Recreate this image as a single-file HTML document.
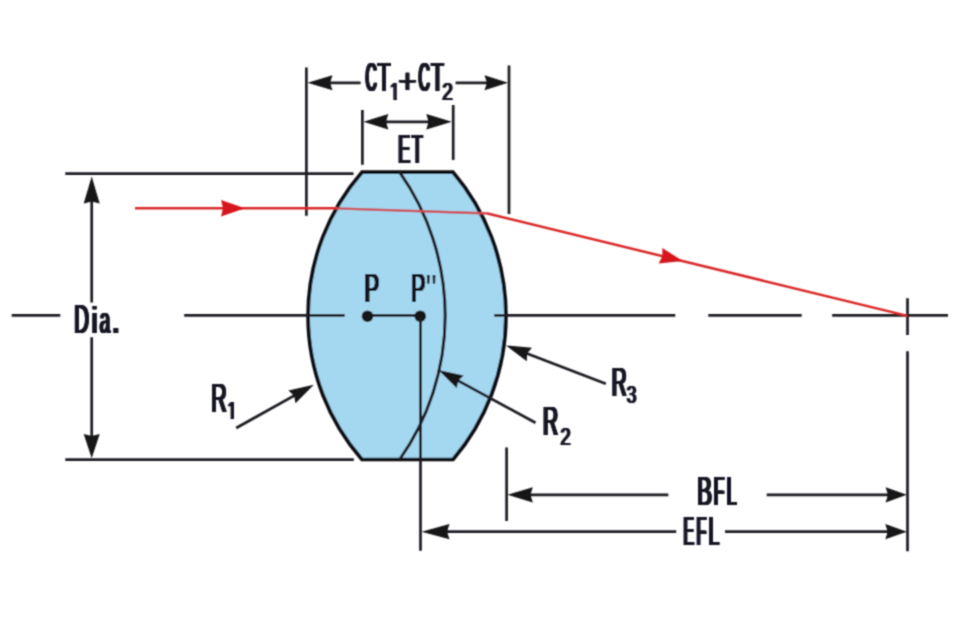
<!DOCTYPE html>
<html lang="en">
<head>
<meta charset="utf-8">
<title>Doublet lens dimensions diagram</title>
<style>
  html, body { margin: 0; padding: 0; background: #ffffff; }
  body { width: 960px; height: 617px; overflow: hidden; }
  svg { display: block; }
  .ln { stroke: #1b1b22; stroke-width: 2.7; fill: none; stroke-linecap: butt; }
  .ah { fill: #121218; stroke: none; }
  .ray { stroke: #da2828; stroke-width: 2.5; fill: none; stroke-linejoin: round; }
  .rah { fill: #d6161b; stroke: none; }
  text { font-family: "Liberation Sans", sans-serif; fill: #131320; }
  .t { font-size: 41px; }
  .q { font-size: 41px; }
  .p { font-size: 35px; }
  .s { font-size: 23px; }
  .b { font-weight: bold; }
</style>
</head>
<body>
<svg width="960" height="617" viewBox="0 0 960 617">
  <defs>
    <filter id="fat" x="-40%" y="-10%" width="180%" height="120%" filterUnits="objectBoundingBox" primitiveUnits="userSpaceOnUse">
      <feOffset in="SourceGraphic" dx="1.3" dy="0" result="a"/>
      <feOffset in="SourceGraphic" dx="-1.3" dy="0" result="b"/>
      <feOffset in="SourceGraphic" dx="0.65" dy="0" result="c"/>
      <feOffset in="SourceGraphic" dx="-0.65" dy="0" result="d"/>
      <feMerge><feMergeNode in="a"/><feMergeNode in="b"/><feMergeNode in="c"/><feMergeNode in="d"/><feMergeNode in="SourceGraphic"/></feMerge>
    </filter>
    <filter id="fat2" x="-40%" y="-10%" width="180%" height="120%" filterUnits="objectBoundingBox" primitiveUnits="userSpaceOnUse">
      <feOffset in="SourceGraphic" dx="0.6" dy="0" result="a"/>
      <feOffset in="SourceGraphic" dx="-0.6" dy="0" result="b"/>
      <feMerge><feMergeNode in="a"/><feMergeNode in="b"/><feMergeNode in="SourceGraphic"/></feMerge>
    </filter>
    <clipPath id="c1" clipPathUnits="userSpaceOnUse"><path d="M388.90,77.00 H395.92 V101.00 H394.28 V97.68 H388.90 Z"/></clipPath>
    <clipPath id="c2" clipPathUnits="userSpaceOnUse"><path d="M226.20,395.90 H233.02 V419.90 H231.46 V416.58 H226.20 Z"/></clipPath>
    <filter id="soft" x="0" y="0" width="960" height="617" filterUnits="userSpaceOnUse">
      <feConvolveMatrix order="3" kernelMatrix="1 3 1 3 8 3 1 3 1" edgeMode="duplicate" preserveAlpha="false"/>
    </filter>
  </defs>
  <rect x="0" y="0" width="960" height="617" fill="#ffffff"/>
  <g filter="url(#soft)">

  <!-- lens body -->
  <path id="lens" d="M362,172.2 L453,172.2 A221.4,221.4 0 0 1 453,459.5 L362,459.5 A218.3,218.3 0 0 1 362,172.2 Z"
        fill="#a4d7f0" stroke="#0e0e12" stroke-width="3.7" stroke-linejoin="miter"/>
  <!-- cemented interface R2 -->
  <path d="M399.6,172.2 A249.1,249.1 0 0 1 399.6,459.5" class="ln" style="stroke-width:3.0"/>

  <!-- optical axis -->
  <path class="ln" d="M11.7,315.4 H60.3 M184.2,315.4 H344.7 M367.5,315.4 H420 M494.2,315.4 H675.3 M708.3,315.4 H801.7 M832.2,315.4 H948"/>
  <circle cx="367.5" cy="316.2" r="5.8" class="ah"/>
  <circle cx="420.2" cy="316.2" r="5.8" class="ah"/>

  <!-- Dia. dimension -->
  <path class="ln" d="M65.3,173.6 H353.5 M65.3,459.7 H353.8 M91.7,190 V302.4 M91.7,337.2 V445"/>
  <polygon class="ah" points="91.7,176.5 99.7,203.5 91.7,201.5 83.7,203.5"/>
  <polygon class="ah" points="91.7,458.3 99.7,434 91.7,436 83.7,434"/>

  <!-- CT1+CT2 dimension -->
  <path class="ln" d="M306.4,67.5 V215.8 M509.0,65.6 V214 M325,82.8 H360.6 M455.6,82.8 H490"/>
  <polygon class="ah" points="307.5,82.8 332.5,75.3 330,82.8 332.5,90.3"/>
  <polygon class="ah" points="508,82.8 484.5,75.3 487,82.8 484.5,90.3"/>

  <!-- ET dimension -->
  <path class="ln" d="M362.4,110 V164.7 M453.2,105 V160 M380,121.8 H435"/>
  <polygon class="ah" points="363.5,121.8 388.3,114 386,121.8 388.3,129.6"/>
  <polygon class="ah" points="451.8,121.8 426.3,114 428.6,121.8 426.3,129.6"/>

  <!-- P'' reference line, BFL, EFL -->
  <path class="ln" d="M420.5,316 V550.8 M506.6,447.4 V521.1 M907.5,298.3 V335 M907.5,351.3 V551.2"/>
  <path class="ln" d="M525,494.8 H668.3 M766.7,494.8 H890 M440,531.7 H676.2 M725,531.7 H890"/>
  <polygon class="ah" points="507.5,494.8 532.8,487.2 530.4,494.8 532.8,502.4"/>
  <polygon class="ah" points="906.8,494.8 885.6,487.2 888,494.8 885.6,502.4"/>
  <polygon class="ah" points="421.5,531.7 449.5,524.1 447,531.7 449.5,539.3"/>
  <polygon class="ah" points="906.8,531.7 885.3,524.1 887.7,531.7 885.3,539.3"/>

  <!-- radius leaders -->
  <path class="ln" d="M236.2,428 L300,392.4 M535.5,422.8 L455,379 M605.8,383.7 L525,352.8"/>
  <polygon class="ah" transform="translate(313.8,384.7) rotate(-29.15)" points="0,0 -25,-7.2 -22.5,0 -25,7.2"/>
  <polygon class="ah" transform="translate(438.3,370) rotate(208.5)" points="0,0 -25,-7.2 -22.5,0 -25,7.2"/>
  <polygon class="ah" transform="translate(506.0,345.5) rotate(200.9)" points="0,0 -25,-7.2 -22.5,0 -25,7.2"/>

  <!-- ray -->
  <path class="ray" d="M135,208.3 L337,208.3 M487.5,213.5 L907.5,315.9"/>
  <path class="ray" d="M336,208.3 L488.5,213.5" style="stroke:#cf4a50;stroke-width:2.3"/>
  <polygon class="rah" points="245,208.3 221,200 223,208.3 221,216.6"/>
  <polygon class="rah" transform="translate(682.8,261.1) rotate(13.7)" points="0,0 -23,-8 -21,0 -23,8"/>

  <!-- labels -->
  <g>
    <text class="t" filter="url(#fat)" y="90.6"><tspan x="365.41" textLength="11.29" lengthAdjust="spacingAndGlyphs">C</tspan><tspan x="377.84" textLength="12.53" lengthAdjust="spacingAndGlyphs">T</tspan></text>
    <g filter="url(#fat2)"><text class="s" y="100.0" clip-path="url(#c1)"><tspan x="389.76" textLength="10.04" lengthAdjust="spacingAndGlyphs">1</tspan></text></g>
    <text class="p" filter="url(#fat2)" y="92.8"><tspan x="398.16" textLength="18.39" lengthAdjust="spacingAndGlyphs">+</tspan></text>
    <text class="t" filter="url(#fat)" y="90.6"><tspan x="418.60" textLength="11.40" lengthAdjust="spacingAndGlyphs">C</tspan><tspan x="431.14" textLength="12.42" lengthAdjust="spacingAndGlyphs">T</tspan></text>
    <text class="s" filter="url(#fat2)" y="100.0"><tspan x="442.24" textLength="10.62" lengthAdjust="spacingAndGlyphs">2</tspan></text>
    <text class="t" filter="url(#fat)" y="162.8"><tspan x="398.25" textLength="11.81" lengthAdjust="spacingAndGlyphs">E</tspan><tspan x="412.11" textLength="10.59" lengthAdjust="spacingAndGlyphs">T</tspan></text>
    <text class="t" filter="url(#fat)" y="332.8"><tspan x="74.14" textLength="14.63" lengthAdjust="spacingAndGlyphs">D</tspan><tspan x="91.63" font-size="36.3" textLength="5.56" lengthAdjust="spacingAndGlyphs">i</tspan><tspan x="99.81" font-size="36.3" textLength="10.29" lengthAdjust="spacingAndGlyphs">a</tspan><tspan x="111.81" font-size="46" textLength="8.17" lengthAdjust="spacingAndGlyphs">.</tspan></text>
    <text class="t" filter="url(#fat)" y="302.3"><tspan x="364.50" textLength="14.66" lengthAdjust="spacingAndGlyphs">P</tspan></text>
    <text class="t" filter="url(#fat)" y="302.3"><tspan x="411.27" textLength="14.04" lengthAdjust="spacingAndGlyphs">P</tspan></text>
    <text class="q" y="303.4"><tspan x="425.45" textLength="11.31" lengthAdjust="spacingAndGlyphs">&quot;</tspan></text>
    <text class="t" filter="url(#fat)" y="412.0"><tspan x="211.35" textLength="15.45" lengthAdjust="spacingAndGlyphs">R</tspan></text>
    <g filter="url(#fat2)"><text class="s" y="418.9" clip-path="url(#c2)"><tspan x="227.14" textLength="9.59" lengthAdjust="spacingAndGlyphs">1</tspan></text></g>
    <text class="t" filter="url(#fat)" y="435.2"><tspan x="542.99" textLength="15.08" lengthAdjust="spacingAndGlyphs">R</tspan></text>
    <text class="s" filter="url(#fat2)" y="444.5"><tspan x="560.48" textLength="10.13" lengthAdjust="spacingAndGlyphs">2</tspan></text>
    <text class="t" filter="url(#fat)" y="395.7"><tspan x="611.80" textLength="14.96" lengthAdjust="spacingAndGlyphs">R</tspan></text>
    <text class="s" filter="url(#fat2)" y="402.6"><tspan x="626.84" textLength="9.62" lengthAdjust="spacingAndGlyphs">3</tspan></text>
    <text class="t" filter="url(#fat)" y="505.0"><tspan x="697.20" textLength="14.66" lengthAdjust="spacingAndGlyphs">B</tspan><tspan x="713.79" textLength="10.50" lengthAdjust="spacingAndGlyphs">F</tspan><tspan x="726.75" textLength="9.84" lengthAdjust="spacingAndGlyphs">L</tspan></text>
    <text class="t" filter="url(#fat)" y="544.5"><tspan x="683.41" textLength="10.46" lengthAdjust="spacingAndGlyphs">E</tspan><tspan x="696.39" textLength="9.75" lengthAdjust="spacingAndGlyphs">F</tspan><tspan x="708.44" textLength="10.60" lengthAdjust="spacingAndGlyphs">L</tspan></text>
  </g>
  </g>
</svg>
</body>
</html>
